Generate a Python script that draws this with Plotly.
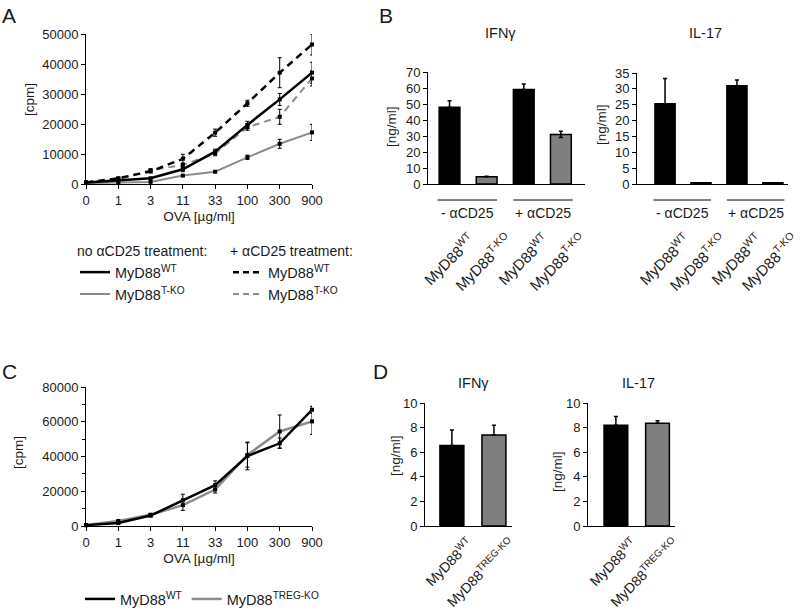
import plotly.graph_objects as go

W, H = 800, 614
def px(x): return x / W
def py(y): return 1 - y / H

FONT = "Liberation Sans, Arial, sans-serif"
INK = "#1a1a1a"
GRAY_LINE = "#8c8c8c"
GRAY_BAR = "#7f7f7f"

# ---------- Panel A data ----------
conc = ["0", "1", "3", "11", "33", "100", "300", "900"]
a_wt_no = [500, 1300, 1900, 4900, 10800, 19700, 28200, 37100]
a_wt_no_err = [200, 300, 300, 800, 800, 1200, 2000, 3500]
a_tko_no = [300, 600, 700, 2800, 4100, 8900, 13400, 17200]
a_tko_no_err = [100, 200, 200, 300, 300, 700, 1500, 2700]
a_wt_ac = [500, 1900, 4200, 8400, 17100, 26900, 37100, 46500]
a_wt_ac_err = [200, 400, 500, 1500, 1200, 1000, 5000, 3500]
a_tko_ac = [500, 1600, 4600, 6300, 10200, 18900, 22400, 35200]
a_tko_ac_err = [200, 300, 400, 700, 800, 1000, 2500, 2500]

# ---------- Panel B data ----------
b_cats = ["WT -aCD25", "TKO -aCD25", "WT +aCD25", "TKO +aCD25"]
b_ticks = ["MyD88<sup>WT</sup>", "MyD88<sup>T-KO</sup>", "MyD88<sup>WT</sup>", "MyD88<sup>T-KO</sup>"]
b_ifng = [48, 4.5, 59, 31]
b_ifng_err = [4, 0.3, 3.5, 2]
b_ifng_errminus = [0, 0, 0, 2]
b_il17 = [25.3, 0.4, 31, 0.4]
b_il17_err = [8, 0, 1.8, 0]
b_colors = ["#000000", GRAY_BAR, "#000000", GRAY_BAR]
b_groups = ["- \u03b1CD25", "+ \u03b1CD25"]

# ---------- Panel C data ----------
c_wt = [500, 1700, 6000, 14800, 23500, 40300, 47600, 66900]
c_wt_err = [300, 500, 800, 3500, 2500, 8000, 3000, 2000]
c_treg = [500, 2900, 6500, 12000, 21000, 40900, 54400, 60200]
c_treg_err = [300, 400, 700, 3000, 2000, 7000, 9500, 7500]

# ---------- Panel D data ----------
d_cats = ["WT", "TREG-KO"]
d_ticks = ["MyD88<sup>WT</sup>", "MyD88<sup>TREG-KO</sup>"]
d_ifng = [6.55, 7.4]
d_ifng_err = [1.25, 0.8]
d_il17 = [8.2, 8.35]
d_il17_err = [0.7, 0.2]
d_colors = ["#000000", GRAY_BAR]

fig = go.Figure()

def line_trace(x, y, err, color, width, dash, xa, ya):
    return go.Scatter(
        x=x, y=y, xaxis=xa, yaxis=ya, mode="lines+markers",
        line=dict(color=color, width=width, dash=dash),
        marker=dict(symbol="square", size=4, color="#000000"),
        error_y=dict(type="data", array=err, color="#000000", thickness=1, width=2),
        showlegend=False, cliponaxis=False,
    )

# Panel A lines
fig.add_trace(line_trace(conc, a_tko_no, a_tko_no_err, GRAY_LINE, 2, "solid", "x", "y"))
fig.add_trace(line_trace(conc, a_tko_ac, a_tko_ac_err, GRAY_LINE, 2, "7px,5px", "x", "y"))
fig.add_trace(line_trace(conc, a_wt_no, a_wt_no_err, "#000000", 2.5, "solid", "x", "y"))
fig.add_trace(line_trace(conc, a_wt_ac, a_wt_ac_err, "#000000", 2.5, "7px,5px", "x", "y"))

# Legend-only traces for panel A
fig.add_trace(go.Scatter(x=[None], y=[None], mode="lines", line=dict(color="#000000", width=2.5),
                         name="MyD88<sup>WT</sup>", legend="legend", xaxis="x", yaxis="y"))
fig.add_trace(go.Scatter(x=[None], y=[None], mode="lines", line=dict(color=GRAY_LINE, width=2),
                         name="MyD88<sup>T-KO</sup>", legend="legend", xaxis="x", yaxis="y"))
fig.add_trace(go.Scatter(x=[None], y=[None], mode="lines", line=dict(color="#000000", width=2.5, dash="6px,4px"),
                         name="MyD88<sup>WT</sup>", legend="legend2", xaxis="x", yaxis="y"))
fig.add_trace(go.Scatter(x=[None], y=[None], mode="lines", line=dict(color=GRAY_LINE, width=2, dash="6px,4px"),
                         name="MyD88<sup>T-KO</sup>", legend="legend2", xaxis="x", yaxis="y"))

# Panel B bars
fig.add_trace(go.Bar(x=b_cats, y=b_ifng, xaxis="x2", yaxis="y2", width=0.56,
                     marker=dict(color=b_colors, line=dict(color="#000000", width=1.5)),
                     error_y=dict(type="data", array=b_ifng_err, arrayminus=b_ifng_errminus,
                                  symmetric=False, color="#000000", thickness=1.5, width=2),
                     showlegend=False))
fig.add_trace(go.Bar(x=b_cats, y=b_il17, xaxis="x3", yaxis="y3", width=0.56,
                     marker=dict(color=b_colors, line=dict(color="#000000", width=1.5)),
                     error_y=dict(type="data", array=b_il17_err, arrayminus=[0, 0, 0, 0],
                                  symmetric=False, color="#000000", thickness=1.5, width=2),
                     showlegend=False))

# Panel C lines
fig.add_trace(line_trace(conc, c_treg, c_treg_err, GRAY_LINE, 2.5, "solid", "x4", "y4"))
fig.add_trace(line_trace(conc, c_wt, c_wt_err, "#000000", 2.5, "solid", "x4", "y4"))
fig.add_trace(go.Scatter(x=[None], y=[None], mode="lines", line=dict(color="#000000", width=2.5),
                         name="MyD88<sup>WT</sup>", legend="legend3", xaxis="x4", yaxis="y4"))
fig.add_trace(go.Scatter(x=[None], y=[None], mode="lines", line=dict(color=GRAY_LINE, width=2.5),
                         name="MyD88<sup>TREG-KO</sup>", legend="legend3", xaxis="x4", yaxis="y4"))

# Panel D bars
fig.add_trace(go.Bar(x=d_cats, y=d_ifng, xaxis="x5", yaxis="y5", width=0.57,
                     marker=dict(color=d_colors, line=dict(color="#000000", width=1.5)),
                     error_y=dict(type="data", array=d_ifng_err, arrayminus=[0, 0],
                                  symmetric=False, color="#000000", thickness=1.5, width=2),
                     showlegend=False))
fig.add_trace(go.Bar(x=d_cats, y=d_il17, xaxis="x6", yaxis="y6", width=0.57,
                     marker=dict(color=d_colors, line=dict(color="#000000", width=1.5)),
                     error_y=dict(type="data", array=d_il17_err, arrayminus=[0, 0],
                                  symmetric=False, color="#000000", thickness=1.5, width=2),
                     showlegend=False))

tickfont = dict(family=FONT, size=13, color=INK)
rotfont = dict(family=FONT, size=15, color=INK)
rotfont_d = dict(family=FONT, size=14, color=INK)
base_axis = dict(showgrid=False, zeroline=False, showline=True, linecolor="#000000", linewidth=1,
                 ticks="outside", ticklen=4, tickcolor="#000000", tickfont=tickfont, automargin=False)

def yax(domain, rng, dtick, minor=None, anchor="x"):
    d = dict(base_axis, domain=domain, range=rng, dtick=dtick, anchor=anchor, fixedrange=True,
             tickformat="d")
    if minor:
        d["minor"] = dict(dtick=minor, ticks="outside", ticklen=3, tickcolor="#000000")
    return d

line_x = dict(base_axis, type="category", categoryarray=conc, range=[0, 7])

def leg(x, y, title=None, orientation="v"):
    d = dict(x=px(x), y=py(y), xref="container", yref="container", xanchor="left", yanchor="top",
             bgcolor="rgba(0,0,0,0)", font=dict(family=FONT, size=14.5, color=INK),
             tracegroupgap=0, itemwidth=30, orientation=orientation)
    if title:
        d["title"] = dict(text=title, font=dict(family=FONT, size=14, color=INK))
    return d

rot_b = dict(ticklabelstandoff=40, ticklabelshift=21, tickfont=rotfont, tickangle=-45, ticks="")
rot_d = dict(ticklabelstandoff=3, ticklabelshift=17, tickfont=rotfont_d, tickangle=-45, ticks="")

fig.update_layout(
    width=W, height=H, margin=dict(l=0, r=0, t=0, b=0, autoexpand=False),
    paper_bgcolor="white", plot_bgcolor="white",
    font=dict(family=FONT, size=13, color=INK),
    xaxis=dict(line_x, domain=[px(86), px(312)], anchor="y",
               title=dict(text="OVA [\u00b5g/ml]", font=dict(family=FONT, size=13.5, color=INK), standoff=4)),
    yaxis=yax([py(184), py(34)], [0, 50000], 10000, anchor="x"),
    xaxis2=dict(base_axis, domain=[px(428), px(585)], anchor="y2", type="category", categoryarray=b_cats,
                range=[-0.58, 3.65], tickvals=b_cats, ticktext=b_ticks, **rot_b),
    yaxis2=yax([py(184), py(72)], [0, 70], 10, anchor="x2"),
    xaxis3=dict(base_axis, domain=[px(637), px(788)], anchor="y3", type="category", categoryarray=b_cats,
                range=[-0.78, 3.42], tickvals=b_cats, ticktext=b_ticks, **rot_b),
    yaxis3=yax([py(184), py(73)], [0, 35], 5, anchor="x3"),
    xaxis4=dict(line_x, domain=[px(86), px(312)], anchor="y4",
                title=dict(text="OVA [\u00b5g/ml]", font=dict(family=FONT, size=13.5, color=INK), standoff=4)),
    yaxis4=yax([py(526), py(387)], [0, 80000], 20000, minor=10000, anchor="x4"),
    xaxis5=dict(base_axis, domain=[px(425), px(512)], anchor="y5", type="category", categoryarray=d_cats,
                range=[-0.64, 1.43], tickvals=d_cats, ticktext=d_ticks, **rot_d),
    yaxis5=yax([py(526), py(403)], [0, 10], 2, anchor="x5"),
    xaxis6=dict(base_axis, domain=[px(588), px(675)], anchor="y6", type="category", categoryarray=d_cats,
                range=[-0.67, 1.42], tickvals=d_cats, ticktext=d_ticks, **rot_d),
    yaxis6=yax([py(526), py(403)], [0, 10], 2, anchor="x6"),
    legend=leg(75, 238, "no \u03b1CD25 treatment:"),
    legend2=leg(228, 238, "+ \u03b1CD25 treatment:"),
    legend3=leg(80, 583, orientation="h"),
)

anns = []
for txt, x, y in [("A", 0, 2), ("B", 377, 2), ("C", 0, 358), ("D", 371, 358)]:
    anns.append(dict(text=txt, x=px(x), y=py(y), xref="paper", yref="paper", xanchor="left", yanchor="top",
                     showarrow=False, font=dict(family=FONT, size=21, color=INK)))
for txt, x, y in [("IFN\u03b3", 500, 33), ("IL-17", 705, 33), ("IFN\u03b3", 473, 383), ("IL-17", 638, 383)]:
    anns.append(dict(text=txt, x=px(x), y=py(y), xref="paper", yref="paper", xanchor="center", yanchor="middle",
                     showarrow=False, font=dict(family=FONT, size=14.5, color=INK)))
# y-axis titles
for txt, x, y in [("[cpm]", 30, 100), ("[cpm]", 18, 453), ("[ng/ml]", 392, 127),
                  ("[ng/ml]", 602, 125), ("[ng/ml]", 395, 456), ("[ng/ml]", 557, 472)]:
    anns.append(dict(text=txt, x=px(x), y=py(y), xref="paper", yref="paper", xanchor="center", yanchor="middle",
                     textangle=-90, showarrow=False, font=dict(family=FONT, size=13.5, color=INK)))

shapes = []
for xa in ["x2", "x3"]:
    for gi, (lo, hi) in enumerate([(-0.32, 1.28), (1.72, 3.32)]):
        shapes.append(dict(type="line", xref=xa, yref="paper", x0=lo, x1=hi, y0=py(200), y1=py(200),
                           line=dict(color="#000000", width=1)))
        anns.append(dict(text=b_groups[gi], x=(lo + hi) / 2, y=py(213), xref=xa, yref="paper",
                         xanchor="center", yanchor="middle", showarrow=False,
                         font=dict(family=FONT, size=14, color=INK)))

fig.update_layout(annotations=anns, shapes=shapes)
fig.write_html("out.html", config={"displayModeBar": False},
               post_script="document.body.style.margin='0px';document.body.style.overflow='hidden';")
